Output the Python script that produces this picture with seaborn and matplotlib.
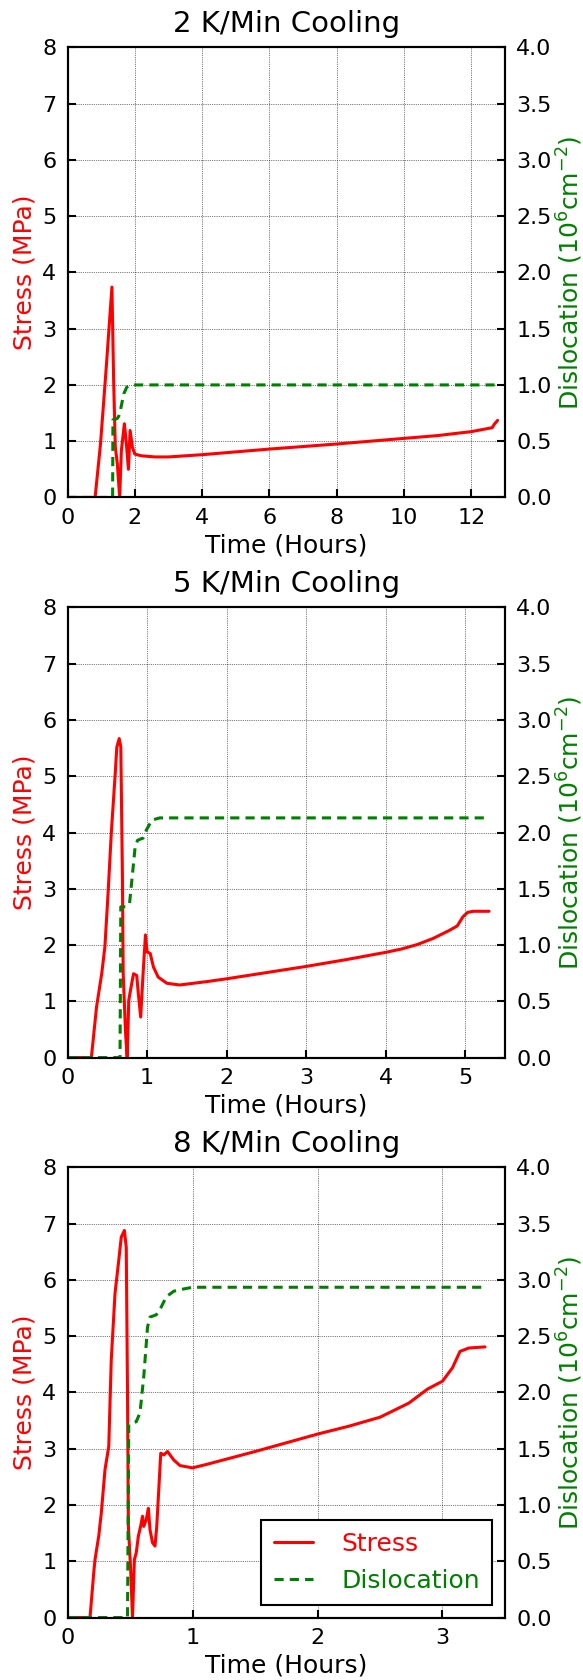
import matplotlib
matplotlib.use("Agg")
import matplotlib.pyplot as plt
import seaborn as sns

# ---------------- data ----------------
titles = ["2 K/Min Cooling", "5 K/Min Cooling", "8 K/Min Cooling"]
x_max = [13, 5.5, 3.5]
x_ticks = [[0, 2, 4, 6, 8, 10, 12], [0, 1, 2, 3, 4, 5], [0, 1, 2, 3]]

# 2 K/min
t2_stress = [0, 0.82, 0.98, 1.15, 1.32, 1.37, 1.42, 1.48, 1.55, 1.60, 1.69, 1.75,
             1.81, 1.86, 1.93, 2.0, 2.2, 2.6, 3.0, 4.0, 6.0, 8.0, 10.0, 11.0, 12.0,
             12.62, 12.68, 12.78]
s2 = [0, 0, 0.95, 2.3, 3.74, 2.1, 0.9, 0.6, 0.0, 0.83, 1.31, 0.95,
      0.5, 1.19, 0.89, 0.77, 0.74, 0.72, 0.72, 0.76, 0.86, 0.95, 1.05, 1.10, 1.17,
      1.24, 1.30, 1.37]
t2_disl = [0, 1.34, 1.35, 1.47, 1.52, 1.57, 1.67, 1.76, 1.91, 12.8]
d2 = [0, 0, 0.69, 0.70, 0.72, 0.77, 0.92, 0.98, 1.0, 1.0]

# 5 K/min
t5_stress = [0, 0.30, 0.365, 0.43, 0.47, 0.51, 0.55, 0.60, 0.62, 0.65, 0.67, 0.69,
             0.70, 0.73, 0.75, 0.77, 0.80, 0.83, 0.87, 0.89, 0.92, 0.95, 0.98, 1.0,
             1.04, 1.08, 1.14, 1.25, 1.41, 1.75, 2.0, 2.5, 3.0, 3.5, 4.0, 4.2, 4.4,
             4.6, 4.8, 4.9, 4.97, 5.03, 5.1, 5.3]
s5 = [0, 0, 0.90, 1.49, 1.97, 2.92, 3.98, 5.05, 5.52, 5.67, 5.52, 3.27,
      1.49, 0.43, 0.0, 1.02, 1.26, 1.49, 1.46, 1.14, 0.72, 1.49, 2.18, 1.88,
      1.85, 1.61, 1.43, 1.32, 1.29, 1.35, 1.40, 1.51, 1.62, 1.74, 1.87, 1.93, 2.01,
      2.12, 2.26, 2.34, 2.50, 2.58, 2.60, 2.60]
t5_disl = [0, 0.66, 0.67, 0.74, 0.78, 0.85, 0.88, 0.91, 0.95, 0.99, 1.06, 1.16, 5.3]
d5 = [0, 0, 1.34, 1.34, 1.37, 1.87, 1.93, 1.94, 1.95, 2.02, 2.11, 2.13, 2.13]

# 8 K/min
t8_stress = [0, 0.18, 0.21, 0.22, 0.25, 0.27, 0.30, 0.33, 0.35, 0.38, 0.41, 0.43,
             0.455, 0.47, 0.48, 0.487, 0.505, 0.52, 0.535, 0.55, 0.567, 0.585, 0.60,
             0.61, 0.63, 0.647, 0.66, 0.68, 0.70, 0.714, 0.746, 0.77, 0.80, 0.85,
             0.90, 1.0, 1.11, 1.5, 2.0, 2.25, 2.5, 2.73, 2.88, 3.0, 3.08, 3.14,
             3.21, 3.34]
s8 = [0, 0, 0.80, 1.03, 1.45, 1.85, 2.63, 3.04, 4.58, 5.76, 6.35, 6.76,
      6.88, 6.58, 3.98, 1.62, 0.86, 0.0, 1.03, 1.15, 1.45, 1.62, 1.80,
      1.62, 1.74, 1.94, 1.56, 1.33, 1.27, 1.62, 2.92, 2.89, 2.95, 2.80,
      2.70, 2.66, 2.72, 2.95, 3.26, 3.40, 3.56, 3.81, 4.06, 4.20, 4.44, 4.73,
      4.79, 4.81]
t8_disl = [0, 0.48, 0.49, 0.55, 0.58, 0.61, 0.64, 0.66, 0.71, 0.75, 0.79, 0.85,
           0.93, 1.0, 3.34]
d8 = [0, 0, 1.72, 1.74, 1.82, 2.14, 2.58, 2.67, 2.69, 2.76, 2.85, 2.90,
      2.92, 2.935, 2.935]

stress_t = [t2_stress, t5_stress, t8_stress]
stress_v = [s2, s5, s8]
disl_t = [t2_disl, t5_disl, t8_disl]
disl_v = [d2, d5, d8]

legend_labels = ["Stress", "Dislocation"]

# ---------------- style ----------------
sns.set_style("ticks")
plt.rcParams.update({
    "font.family": ["DejaVu Sans"],
    "mathtext.fontset": "dejavusans",
    "xtick.direction": "in", "ytick.direction": "in",
    "xtick.major.size": 6, "ytick.major.size": 6,
    "xtick.major.width": 1.5, "ytick.major.width": 1.5,
    "xtick.major.pad": 7.5, "ytick.major.pad": 8,
    "axes.linewidth": 1.5,
    "axes.edgecolor": "black",
    "xtick.color": "black", "ytick.color": "black",
    "xtick.labelsize": 16, "ytick.labelsize": 16,
    "axes.labelsize": 18, "axes.titlesize": 21,
    "axes.titlepad": 11,
    "axes.labelpad": 4,
    "lines.dashed_pattern": [3.0, 2.0],
    "text.color": "black", "axes.labelcolor": "black",
})

fig = plt.figure(figsize=(5.83, 16.8), dpi=100)
bottoms = [0.7039, 0.3705, 0.0372]

for i in range(3):
    ax = fig.add_axes([0.1158, bottoms[i], 0.7504, 0.2679])
    sns.lineplot(x=stress_t[i], y=stress_v[i], ax=ax, color="red", linewidth=2.2,
                 sort=False, estimator=None)
    ax.set_xlim(0, x_max[i])
    ax.set_ylim(0, 8)
    ax.set_xticks(x_ticks[i])
    ax.set_yticks(range(0, 9))
    ax.grid(True, color="black", linestyle=":", linewidth=0.5)
    ax.set_axisbelow(True)
    ax.set_title(titles[i])
    ax.set_xlabel("Time (Hours)")
    ax.set_ylabel("Stress (MPa)", color="red")
    ax.tick_params(top=False, right=False)

    ax2 = ax.twinx()
    sns.lineplot(x=disl_t[i], y=disl_v[i], ax=ax2, color="green", linewidth=2.2,
                 linestyle="--", sort=False, estimator=None)
    ax2.set_ylim(0, 4)
    ax2.set_yticks([0, 0.5, 1.0, 1.5, 2.0, 2.5, 3.0, 3.5, 4.0])
    ax2.set_yticklabels(["0.0", "0.5", "1.0", "1.5", "2.0", "2.5", "3.0", "3.5", "4.0"])
    ax2.grid(False)
    ax2.set_ylabel(r"Dislocation ($10^6$cm$^{-2}$)", color="green", labelpad=2.5)
    ax2.tick_params(right=True, direction="in")
    for sp in ax2.spines.values():
        sp.set_linewidth(1.5)
        sp.set_color("black")

    if i == 2:
        handles = [ax.lines[0], ax2.lines[0]]
        leg = ax2.legend(handles, legend_labels, loc="lower right", fontsize=18,
                         frameon=True, fancybox=False, framealpha=1,
                         edgecolor="black", handlelength=1.55, handletextpad=1.15,
                         borderpad=0.5, labelcolor=["red", "green"])
        leg.get_frame().set_linewidth(1.5)

fig.savefig("out.png", dpi=100)
